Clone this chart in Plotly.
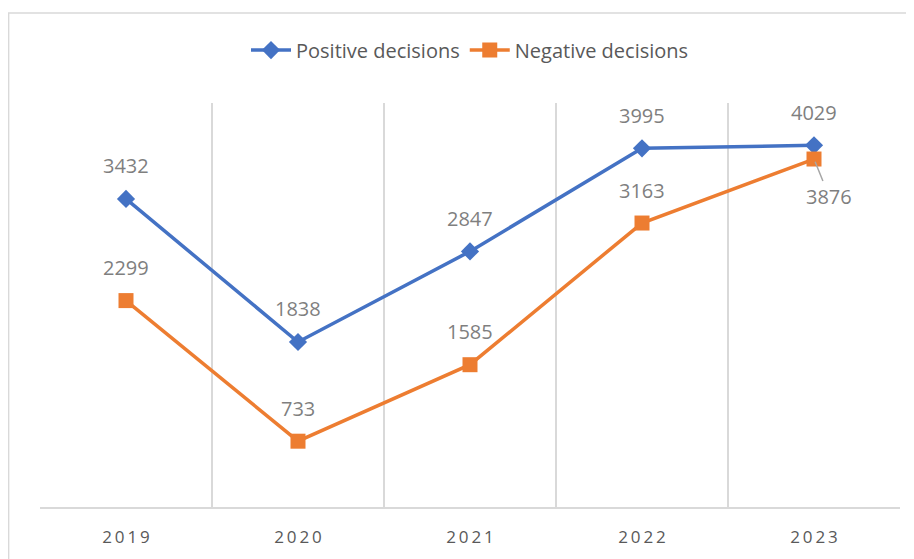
import plotly.graph_objects as go

years = ["2019", "2020", "2021", "2022", "2023"]
positive = [3432, 1838, 2847, 3995, 4029]
negative = [2299, 733, 1585, 3163, 3876]

BLUE = "#4472C4"
ORANGE = "#ED7D31"
LABEL = "#7F7F7F"
TEXT = "#595959"
GRID = "#D9D9D9"
FONT = "Open Sans"

xpos = list(range(len(years)))
tick_text = ["\u2009".join(list(y)) for y in years]
bounds = [i - 0.5 for i in range(len(years) + 1)]

fig = go.Figure()
fig.add_trace(go.Scatter(
    x=xpos, y=positive, name="Positive decisions", mode="lines+markers",
    line=dict(color=BLUE, width=3.5),
    marker=dict(symbol="diamond", size=14, color=BLUE),
))
fig.add_trace(go.Scatter(
    x=xpos, y=negative, name="Negative decisions", mode="lines+markers",
    line=dict(color=ORANGE, width=3.5),
    marker=dict(symbol="square", size=15, color=ORANGE),
))

lab_font = dict(family=FONT, size=20, color=LABEL)
ann = []
for x, v in zip(xpos, positive):
    ann.append(dict(x=x, y=v, text=str(v), showarrow=False, yshift=33, font=lab_font))
for i, (x, v) in enumerate(zip(xpos, negative)):
    if i == len(years) - 1:
        ann.append(dict(x=x, y=v, text=str(v), showarrow=True, arrowhead=0,
                        arrowwidth=1.5, arrowcolor="#A6A6A6", ax=15, ay=37,
                        standoff=3, font=lab_font))
    else:
        ann.append(dict(x=x, y=v, text=str(v), showarrow=False, yshift=33, font=lab_font))

# page has an 8px body margin: figure is shifted by 8px, so size and margins compensate
fig.update_layout(
    width=906, height=551,
    margin=dict(l=32, r=14, t=95, b=52),
    paper_bgcolor="white", plot_bgcolor="white",
    font=dict(family=FONT, color=TEXT),
    showlegend=True,
    legend=dict(orientation="h", x=0.5, xanchor="center", y=1.131, yanchor="middle",
                font=dict(family=FONT, size=20, color=TEXT), itemwidth=40),
    xaxis=dict(tickvals=xpos, ticktext=tick_text, showgrid=False,
               minor=dict(tickvals=bounds, showgrid=True, gridcolor=GRID,
                          gridwidth=1.5, ticks=""),
               showline=True, linecolor=GRID, linewidth=1.5, ticks="",
               ticklabelstandoff=14,
               tickfont=dict(family=FONT, size=17, color=TEXT),
               range=[-0.5, 4.5], zeroline=False),
    yaxis=dict(range=[0, 4500], showgrid=False, showticklabels=False,
               zeroline=False, showline=False),
    annotations=ann,
    shapes=[dict(type="rect", xref="paper", yref="paper",
                 x0=-0.0365, x1=1.03, y0=-0.2, y1=1.2228,
                 line=dict(color=GRID, width=1.5), layer="below")],
)

fig.write_html("out.html")
